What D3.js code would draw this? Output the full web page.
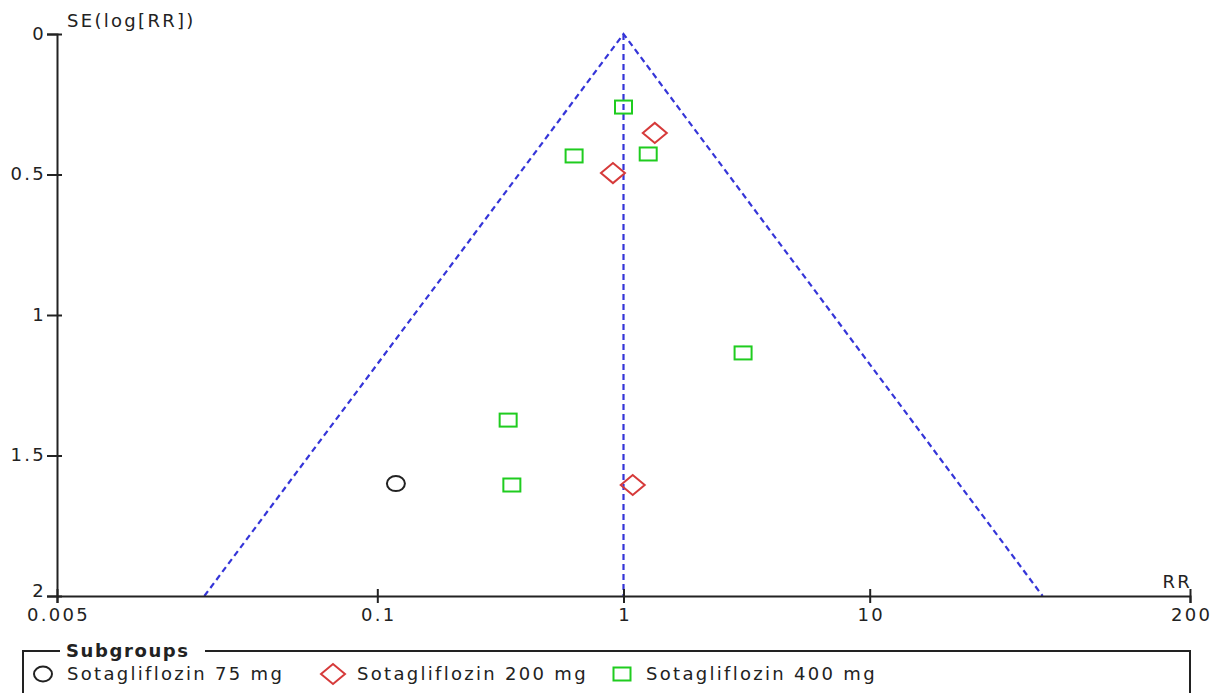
<!DOCTYPE html>
<html>
<head>
    <script src="https://d3js.org/d3.v7.min.js"></script>
    <style>
        body { margin: 0; background: #fff; }
        text { font-family: "DejaVu Sans", Verdana, sans-serif; fill: #222; letter-spacing: 2.3px; }
    </style>
</head>
<body>
    <div id="chart"></div>
    <script>
        // subgroups and their studies (RR, SE of log RR)
        var groups = ["Sotagliflozin 75 mg", "Sotagliflozin 200 mg", "Sotagliflozin 400 mg"];
        var rr75 = [0.119];
        var se75 = [1.60];
        var rr200 = [1.34, 0.906, 1.09];
        var se200 = [0.352, 0.495, 1.605];
        var rr400 = [1.00, 0.63, 1.26, 3.06, 0.34, 0.352];
        var se400 = [0.26, 0.434, 0.427, 1.135, 1.374, 1.605];

        var xTicks = [0.005, 0.1, 1, 10, 200];
        var yTicks = [0, 0.5, 1, 1.5, 2];
        var pooled = 1;

        var width = 1219, height = 693;
        var svg = d3.select("#chart").append("svg")
            .attr("width", width)
            .attr("height", height);

        var x = d3.scaleLog().domain([0.005, 200]).range([57, 1190]);
        var y = d3.scaleLinear().domain([0, 2]).range([34, 596]);

        // funnel
        var funnel = [
            [Math.exp(Math.log(pooled) - 1.96 * 2), 2],
            [pooled, 0],
            [Math.exp(Math.log(pooled) + 1.96 * 2), 2]
        ];
        svg.append("path")
            .attr("d", d3.line().x(function(d) { return x(d[0]); }).y(function(d) { return y(d[1]); })(funnel))
            .attr("fill", "none")
            .attr("stroke", "#3535d8")
            .attr("stroke-width", 2.2)
            .attr("stroke-dasharray", "6,4");
        svg.append("line")
            .attr("x1", x(pooled)).attr("x2", x(pooled))
            .attr("y1", y(0)).attr("y2", y(2))
            .attr("stroke", "#3535d8")
            .attr("stroke-width", 2.2)
            .attr("stroke-dasharray", "6,4");

        // axes
        var xAxis = svg.append("g")
            .attr("transform", "translate(0," + y(2) + ")")
            .call(d3.axisBottom(x).tickValues(xTicks).tickFormat(d3.format("")).tickSize(7));
        xAxis.selectAll(".tick line").attr("y1", -7).attr("y2", 7);
        var yAxis = svg.append("g")
            .attr("transform", "translate(" + x(0.005) + ",0)")
            .call(d3.axisLeft(y).tickValues(yTicks).tickFormat(d3.format("")).tickSize(10));
        yAxis.selectAll(".tick line").attr("x1", -10).attr("x2", 5);
        svg.selectAll(".domain").attr("stroke", "#222").attr("stroke-width", 2);
        svg.selectAll(".tick line").attr("stroke", "#222").attr("stroke-width", 2);
        svg.selectAll(".tick text").attr("font-size", 18).attr("fill", "#222")
            .style("font-family", "'DejaVu Sans', Verdana, sans-serif")
            .style("letter-spacing", "2.3px");
        xAxis.selectAll(".tick text").attr("y", 12).attr("dx", "1px");
        yAxis.selectAll(".tick text").attr("x", -11).attr("dy", "0.28em");
        // lowest y label sits just above the x labels
        yAxis.selectAll(".tick text").filter(function(d) { return d === 2; }).attr("dy", "0.05em");

        svg.append("text").attr("x", 67).attr("y", 27).attr("font-size", 18).text("SE(log[RR])");
        svg.append("text").attr("x", 1192).attr("y", 588).attr("text-anchor", "end").attr("font-size", 18).text("RR");

        // markers
        var colors = ["#222", "#d63a3a", "#1fcc1f"];
        function marker(sel, g) {
            if (g === 0) {
                sel.append("ellipse").attr("rx", 9).attr("ry", 7.5);
            } else if (g === 1) {
                sel.append("path").attr("d", "M-12,0L0,-10L12,0L0,10Z");
            } else {
                sel.append("rect").attr("x", -8.5).attr("y", -6.5).attr("width", 17).attr("height", 13);
            }
            sel.selectAll("ellipse,path,rect").attr("fill", "none").attr("stroke", colors[g]).attr("stroke-width", 2);
        }

        var series = [
            rr75.map(function(d, i) { return { rr: d, se: se75[i] }; }),
            rr200.map(function(d, i) { return { rr: d, se: se200[i] }; }),
            rr400.map(function(d, i) { return { rr: d, se: se400[i] }; })
        ];
        series.forEach(function(pts, g) {
            svg.append("g").selectAll("g").data(pts).enter().append("g")
                .attr("transform", function(d) { return "translate(" + x(d.rr) + "," + y(d.se) + ")"; })
                .each(function() { marker(d3.select(this), g); });
        });

        // legend
        var lg = svg.append("g");
        lg.append("path")
            .attr("d", "M60,651H23V700M205,651H1190V700")
            .attr("fill", "none").attr("stroke", "#222").attr("stroke-width", 2);
        lg.append("text").attr("x", 66).attr("y", 657).attr("font-size", 18).attr("font-weight", "bold")
            .style("letter-spacing", "1.6px").text("Subgroups");
        var lx = [43, 333, 622];
        groups.forEach(function(name, g) {
            var item = lg.append("g").attr("transform", "translate(" + lx[g] + ",674)");
            marker(item, g);
            item.append("text").attr("x", 24).attr("y", 6).attr("font-size", 18).text(name);
        });
    </script>
</body>
</html>
